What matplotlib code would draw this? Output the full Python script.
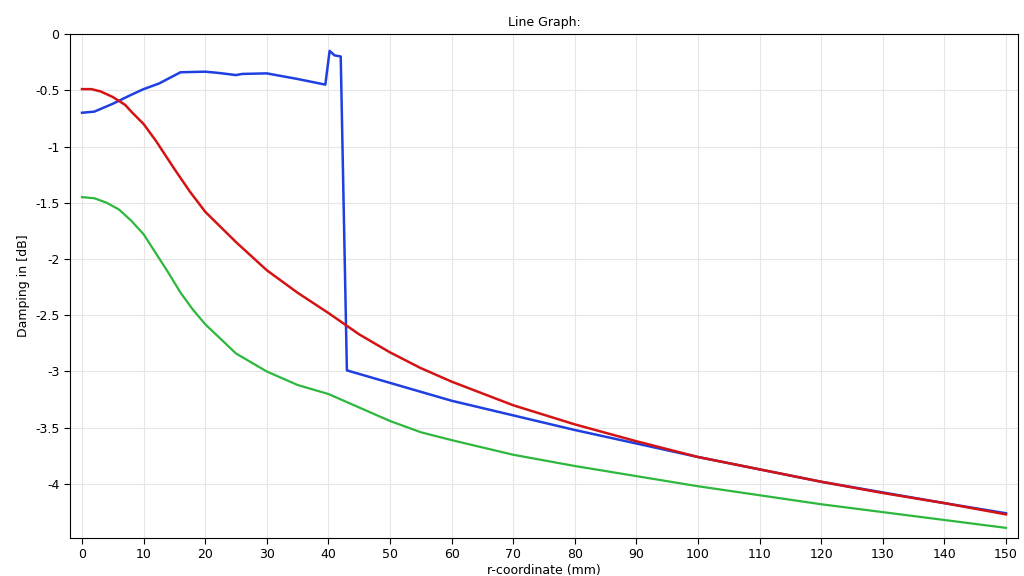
import matplotlib
matplotlib.use("Agg")
import matplotlib.pyplot as plt

blue_x = [0, 2, 5, 8, 10, 12.5, 16, 20, 22, 25, 26, 30, 35, 39.5, 40.2, 41, 42, 43, 60, 80, 100, 120, 140, 150]
blue_y = [-0.70, -0.69, -0.62, -0.54, -0.49, -0.44, -0.34, -0.335, -0.345, -0.365, -0.355, -0.35, -0.40, -0.45, -0.15, -0.19, -0.20, -2.99, -3.26, -3.52, -3.76, -3.98, -4.17, -4.26]
red_x = [0, 1.5, 3, 5, 7, 8, 10, 12, 15, 17.5, 20, 25, 30, 35, 40, 45, 50, 55, 60, 70, 80, 90, 100, 110, 120, 130, 140, 150]
red_y = [-0.49, -0.49, -0.51, -0.56, -0.63, -0.69, -0.80, -0.95, -1.20, -1.40, -1.58, -1.85, -2.10, -2.30, -2.48, -2.67, -2.83, -2.97, -3.09, -3.30, -3.47, -3.62, -3.76, -3.87, -3.98, -4.08, -4.17, -4.27]
green_x = [0, 2, 4, 6, 8, 10, 12, 14, 16, 18, 20, 25, 30, 35, 40, 42.5, 45, 50, 55, 60, 70, 80, 90, 100, 110, 120, 130, 140, 150]
green_y = [-1.45, -1.46, -1.50, -1.56, -1.66, -1.78, -1.95, -2.12, -2.30, -2.45, -2.58, -2.84, -3.00, -3.12, -3.20, -3.26, -3.32, -3.44, -3.54, -3.61, -3.74, -3.84, -3.93, -4.02, -4.10, -4.18, -4.25, -4.32, -4.39]
xticks = list(range(0, 151, 10))
yticks = [0, -0.5, -1, -1.5, -2, -2.5, -3, -3.5, -4]
ytick_labels = ["0", "-0.5", "-1", "-1.5", "-2", "-2.5", "-3", "-3.5", "-4"]

fig = plt.figure(figsize=(10.24, 5.76), dpi=100)
ax = fig.add_axes([70/1024, 1-538/576, 948/1024, 504/576])
ax.plot(blue_x, blue_y, color="#1f3fe0", lw=1.8)
ax.plot(red_x, red_y, color="#d41414", lw=1.8)
ax.plot(green_x, green_y, color="#2db83d", lw=1.6)
ax.set_xlim(-1.95, 151.95)
ax.set_ylim(-4.48, 0)
ax.set_xticks(xticks)
ax.set_yticks(yticks)
ax.set_yticklabels(ytick_labels)
ax.grid(True, color="#e6e6e6", lw=0.8)
ax.set_axisbelow(True)
ax.tick_params(labelsize=9, direction="out", length=4)
ax.set_xlabel("r-coordinate (mm)", fontsize=9, labelpad=2)
ax.set_ylabel("Damping in [dB]", fontsize=9)
ax.set_title("Line Graph:", fontsize=9)
fig.savefig("out.png", dpi=100)
